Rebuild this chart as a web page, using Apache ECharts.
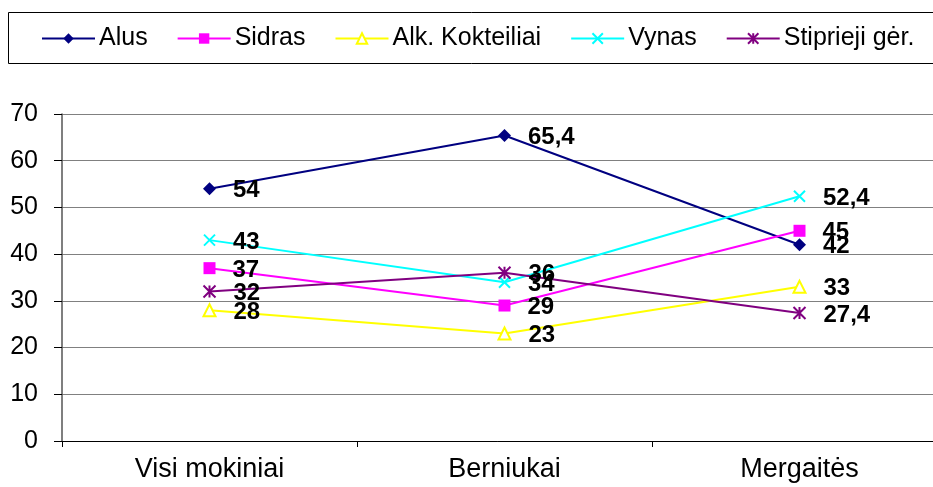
<!DOCTYPE html>
<html>
<head>
<meta charset="utf-8">
<script src="https://cdn.jsdelivr.net/npm/echarts@6/dist/echarts.min.js"></script>
<style>
  html, body { margin: 0; padding: 0; background: #fff; }
  #chart { width: 933px; height: 487px; }
</style>
</head>
<body>
<div id="chart"></div>
<script>
const categories = ['Visi mokiniai', 'Berniukai', 'Mergaitės']
const alus = [54, 65.4, 42]
const sidras = [37, 29, 45]
const kokteiliai = [28, 23, 33]
const vynas = [43, 34, 52.4]
const stiprieji = [32, 36, 27.4]

const crossPath = 'path://M0,0L10,10M10,0L0,10'
const starPath = 'path://M0,0L10,10M10,0L0,10M5,0L5,10'
const font = 'Liberation Sans, Arial'

let chart = echarts.init(document.getElementById('chart'))

function makeSeries(name, data, color, symbol, size, hollow) {
  return {
    name,
    type: 'line',
    data,
    symbol,
    symbolSize: size,
    showAllSymbol: true,
    lineStyle: { color, width: 2 },
    itemStyle: {
      color: hollow ? '#fff' : color,
      borderColor: color,
      borderWidth: hollow ? 2 : (symbol.startsWith('path') ? 2 : 0)
    },
    label: {
      show: true,
      position: 'right',
      distance: 17,
      offset: [0, 2],
      color: '#000',
      fontFamily: font,
      fontWeight: 'bold',
      fontSize: 24,
      formatter: p => String(p.value).replace('.', ',')
    },
    emphasis: { disabled: true },
    animation: false
  }
}

let option = {
  animation: false,
  graphic: [{
    type: 'rect',
    shape: { x: 8.5, y: 12.5, width: 940, height: 51 },
    style: { fill: 'none', stroke: '#000', lineWidth: 1 }
  }],
  legend: {
    left: 41,
    top: 26,
    padding: 0,
    itemWidth: 53,
    itemHeight: 13,
    itemGap: 29,
    textStyle: { fontFamily: font, fontSize: 25, color: '#000', padding: [0, 0, 0, -1] }
  },
  grid: { left: 62, right: -14, top: 114, bottom: 46, outerBoundsMode: 'none' },
  xAxis: {
    type: 'category',
    data: categories,
    boundaryGap: true,
    axisLine: { lineStyle: { color: '#000', width: 1 } },
    axisTick: { show: true, length: 6, lineStyle: { color: '#000' } },
    axisLabel: { margin: 15, fontFamily: font, fontSize: 27, color: '#000' }
  },
  yAxis: {
    type: 'value',
    min: 0,
    max: 70,
    interval: 10,
    axisLine: { show: true, lineStyle: { color: '#555', width: 1.5 } },
    axisTick: { show: true, length: 8, lineStyle: { color: '#000' } },
    axisLabel: { margin: 24, fontFamily: font, fontSize: 25, color: '#000' },
    splitLine: { show: true, lineStyle: { color: '#808080', width: 1 } }
  },
  series: [
    makeSeries('Alus', alus, '#000080', 'diamond', 13, false),
    makeSeries('Sidras', sidras, '#FF00FF', 'rect', 12, false),
    makeSeries('Alk. Kokteiliai', kokteiliai, '#FFFF00', 'triangle', 12, true),
    makeSeries('Vynas', vynas, '#00FFFF', crossPath, 11, false),
    makeSeries('Stiprieji gėr.', stiprieji, '#800080', starPath, 12, false)
  ]
}
chart.setOption(option)
</script>
</body>
</html>
